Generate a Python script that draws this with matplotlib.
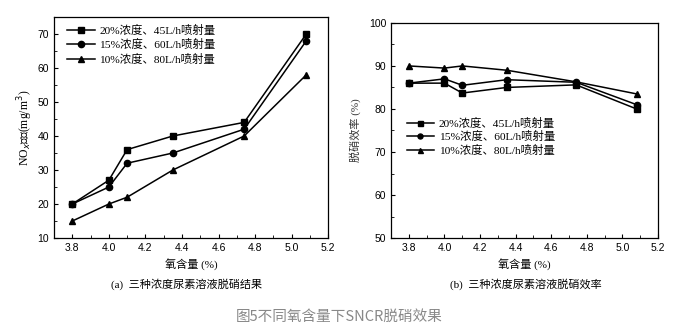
import matplotlib.pyplot as plt
from matplotlib.ticker import MultipleLocator

# oxygen content (%)
oxygen = [3.8, 4.0, 4.1, 4.35, 4.74, 5.08]

# NOx concentration (mg/m3)
nox_20 = [20, 27, 36, 40, 44, 70]
nox_15 = [20, 25, 32, 35, 42, 68]
nox_10 = [15, 20, 22, 30, 40, 58]

# denitration efficiency (%)
eff_20 = [86, 86, 83.7, 85, 85.6, 80]
eff_15 = [86, 87, 85.5, 86.8, 86.2, 81]
eff_10 = [90, 89.5, 90, 89, 86.3, 83.5]

labels = ["20%浓度、45L/h喷射量", "15%浓度、60L/h喷射量", "10%浓度、80L/h喷射量"]
markers = ["s", "o", "^"]

serif_cn = ["Liberation Serif", "Noto Sans CJK SC"]
sans = ["Liberation Sans", "DejaVu Sans"]

fig = plt.figure(figsize=(6.79, 3.32), dpi=100)
ax1 = fig.add_axes([0.0795, 0.283, 0.404, 0.666])
ax2 = fig.add_axes([0.576, 0.283, 0.393, 0.648])


def style(ax):
    ax.set_xlim(3.7, 5.2)
    ax.xaxis.set_major_locator(MultipleLocator(0.2))
    ax.xaxis.set_minor_locator(MultipleLocator(0.1))
    ax.tick_params(which="both", direction="in", top=False, right=False)
    ax.tick_params(which="major", length=3, labelsize=7.5, width=0.8)
    ax.tick_params(which="minor", length=2, width=0.6)
    for lab in ax.get_xticklabels() + ax.get_yticklabels():
        lab.set_family(sans)
    for s in ax.spines.values():
        s.set_linewidth(0.9)
    ax.set_xlabel("氧含量 (%)", family=serif_cn, fontsize=8, labelpad=4)


for ys, m, lab in zip([nox_20, nox_15, nox_10], markers, labels):
    ax1.plot(oxygen, ys, color="black", marker=m, markersize=4.5, linewidth=1.1, label=lab)
ax1.set_ylim(10, 75)
ax1.yaxis.set_major_locator(MultipleLocator(10))
ax1.yaxis.set_minor_locator(MultipleLocator(5))
style(ax1)
ax1.set_ylabel("NO$_x$浓度(mg/m$^3$)", family=serif_cn, fontsize=8.5, labelpad=2)
ax1.legend(loc="upper left", bbox_to_anchor=(0.02, 1.0), frameon=False,
           prop={"family": serif_cn, "size": 8.2}, handlelength=2.4,
           labelspacing=0.3, borderaxespad=0.3, handletextpad=0.4)

for ys, m, lab in zip([eff_20, eff_15, eff_10], markers, labels):
    ax2.plot(oxygen, ys, color="black", marker=m, markersize=4.5, linewidth=1.1, label=lab)
ax2.set_ylim(50, 100)
ax2.yaxis.set_major_locator(MultipleLocator(10))
ax2.yaxis.set_minor_locator(MultipleLocator(5))
style(ax2)
ax2.set_ylabel("脱硝效率 (%)", family=serif_cn, fontsize=8, labelpad=6, color="#333333")
ax2.legend(loc="center left", bbox_to_anchor=(0.02, 0.47), frameon=False,
           prop={"family": serif_cn, "size": 8.2}, handlelength=2.4,
           labelspacing=0.25, handletextpad=0.4, markerscale=0.8)

fig.text(0.275, 0.145, "(a)  三种浓度尿素溶液脱硝结果", ha="center", va="center",
         family=serif_cn, fontsize=8)
fig.text(0.775, 0.145, "(b)  三种浓度尿素溶液脱硝效率", ha="center", va="center",
         family=serif_cn, fontsize=8)
fig.text(0.5, 0.045, "图5不同氧含量下SNCR脱硝效果", ha="center", va="center",
         family=["Noto Sans CJK SC", "DejaVu Sans"], fontsize=10.5, color="#888888")

fig.savefig("out.png", dpi=100)
